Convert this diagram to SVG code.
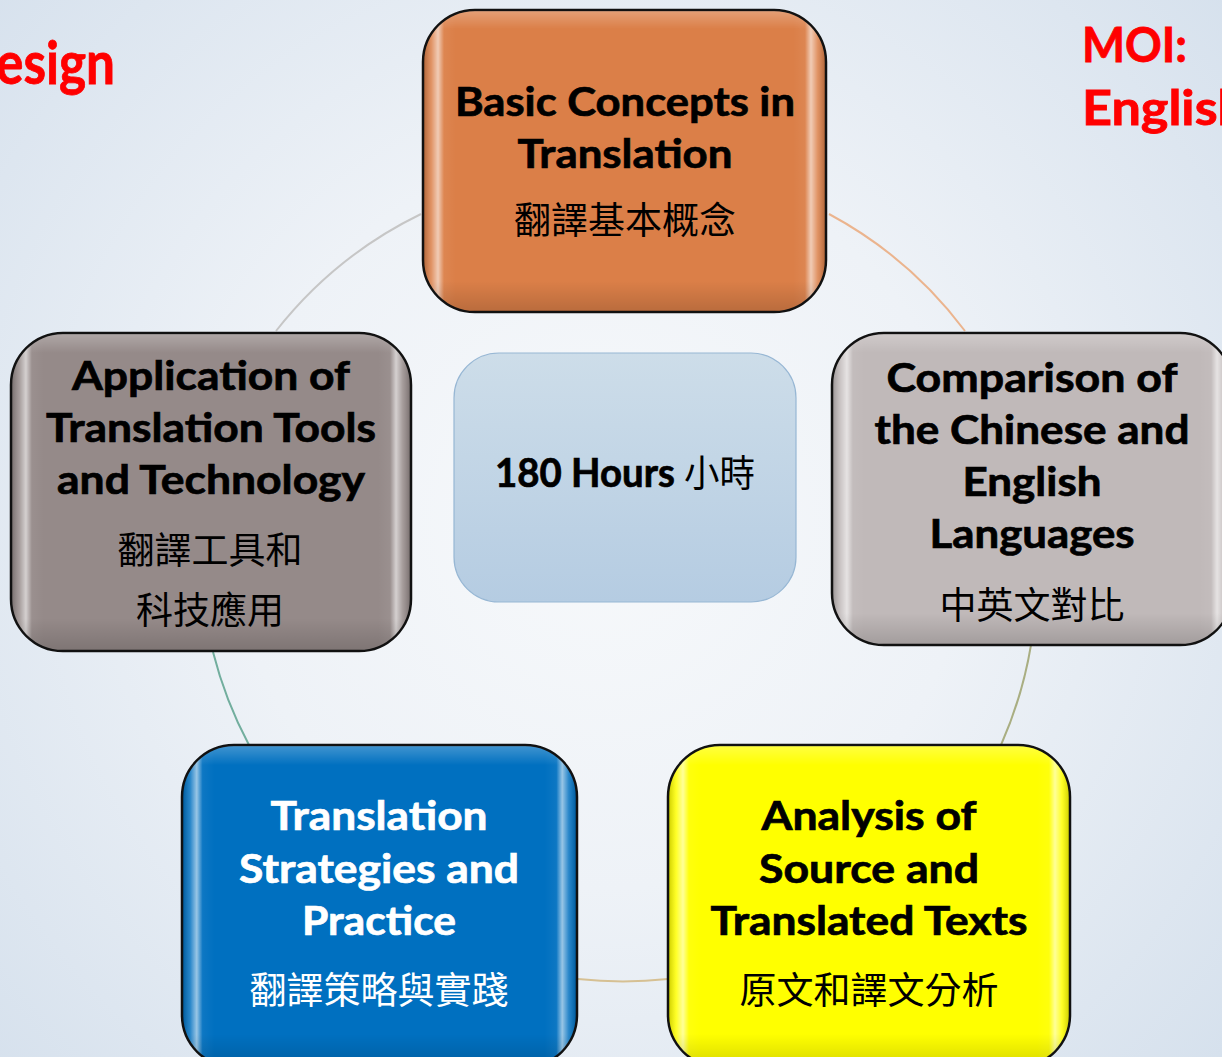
<svg xmlns="http://www.w3.org/2000/svg" width="1222" height="1057" viewBox="0 0 1222 1057">
  <defs>
    <radialGradient id="bg" cx="600" cy="520" r="820" gradientUnits="userSpaceOnUse">
      <stop offset="0" stop-color="#f7f9fb"/>
      <stop offset="0.45" stop-color="#eef2f7"/>
      <stop offset="1" stop-color="#d6e1ed"/>
    </radialGradient>
    <linearGradient id="bevelH" x1="0" y1="0" x2="1" y2="0">
      <stop offset="0" stop-color="#000" stop-opacity="0.18"/>
      <stop offset="0.018" stop-color="#fff" stop-opacity="0.15"/>
      <stop offset="0.035" stop-color="#fff" stop-opacity="0.6"/>
      <stop offset="0.05" stop-color="#fff" stop-opacity="0.05"/>
      <stop offset="0.08" stop-color="#fff" stop-opacity="0"/>
      <stop offset="0.92" stop-color="#fff" stop-opacity="0"/>
      <stop offset="0.95" stop-color="#fff" stop-opacity="0.05"/>
      <stop offset="0.965" stop-color="#fff" stop-opacity="0.6"/>
      <stop offset="0.982" stop-color="#fff" stop-opacity="0.15"/>
      <stop offset="1" stop-color="#000" stop-opacity="0.18"/>
    </linearGradient>
    <linearGradient id="bevelV" x1="0" y1="0" x2="0" y2="1">
      <stop offset="0" stop-color="#fff" stop-opacity="0.25"/>
      <stop offset="0.06" stop-color="#fff" stop-opacity="0"/>
      <stop offset="0.9" stop-color="#000" stop-opacity="0"/>
      <stop offset="1" stop-color="#000" stop-opacity="0.15"/>
    </linearGradient>
    <linearGradient id="centerFill" x1="0" y1="0" x2="0" y2="1">
      <stop offset="0" stop-color="#cddde9"/>
      <stop offset="1" stop-color="#b5cce2"/>
    </linearGradient>
    <style>
      .node { stroke: #111; stroke-width: 2.5; }
      .bev { fill: url(#bevelH); stroke: none; }
      .bevv { fill: url(#bevelV); stroke: none; }
      .dark { fill: #000; }
      .light { fill: #fff; }
      text.en { font-family: Lato, "Liberation Sans", sans-serif; font-weight: 700; font-size: 40px; text-anchor: middle; stroke-width: 0.7px; }
      text.en.dark { stroke: #000; }
      text.en.light { stroke: #fff; }
      .zh { font-family: "Noto Sans CJK TC", "Noto Sans CJK SC", sans-serif; font-weight: 400; font-size: 37px; text-anchor: middle; }
      text.zh, tspan.zh { stroke: none; }
      .red { font-family: Lato, "Liberation Sans", sans-serif; font-weight: 700; fill: #ff0000; stroke: #ff0000; stroke-width: 0.8px; }
      .conn { fill: none; stroke-width: 2; }
    </style>
  </defs>

  <rect x="0" y="0" width="1222" height="1057" fill="url(#bg)"/>

  <g id="titles">
    <text class="red" x="-4" y="84" font-size="60" textLength="119" lengthAdjust="spacingAndGlyphs">esign</text>
    <text class="red" x="1082" y="62" font-size="47" textLength="105" lengthAdjust="spacingAndGlyphs">MOI:</text>
    <text class="red" x="1082" y="125" font-size="47" textLength="165" lengthAdjust="spacingAndGlyphs">English</text>
  </g>

  <g id="connectors">
    <path class="conn" stroke="#ebb48e" d="M829,214 A415,415 0 0 1 965,331"/>
    <path class="conn" stroke="#a9ae82" d="M1031,645 A415,415 0 0 1 1001,745"/>
    <path class="conn" stroke="#d6c093" d="M668,979 A415,415 0 0 1 578,979"/>
    <path class="conn" stroke="#72ae9e" d="M249,745 A415,415 0 0 1 213,652"/>
    <path class="conn" stroke="#c6c6c6" d="M276,331 A415,415 0 0 1 421,214"/>
  </g>

  <g id="node-center">
    <rect x="454" y="353" width="342" height="249" rx="45" ry="45" fill="url(#centerFill)" stroke="#97b7d4" stroke-width="1.2"/>
    <text class="en dark" x="625" y="487" font-size="36" textLength="260" lengthAdjust="spacingAndGlyphs">180 Hours <tspan class="zh" font-size="36">小時</tspan></text>
  </g>

  <g id="node-top">
    <rect class="node" x="423" y="10" width="403" height="302" rx="52" ry="52" fill="#db7f48"/>
    <rect class="bev" x="424" y="11" width="401" height="300" rx="51" ry="51"/>
    <rect class="bevv" x="424" y="11" width="401" height="300" rx="51" ry="51"/>
    <text class="en dark" x="625" y="116" textLength="340" lengthAdjust="spacingAndGlyphs">Basic Concepts in</text>
    <text class="en dark" x="625" y="168" textLength="215" lengthAdjust="spacingAndGlyphs">Translation</text>
    <text class="zh dark" x="625" y="234">翻譯基本概念</text>
  </g>

  <g id="node-left">
    <rect class="node" x="11" y="333" width="400" height="318" rx="52" ry="52" fill="#958a89"/>
    <rect class="bev" x="12" y="334" width="398" height="316" rx="51" ry="51"/>
    <rect class="bevv" x="12" y="334" width="398" height="316" rx="51" ry="51"/>
    <text class="en dark" x="211" y="390" textLength="278" lengthAdjust="spacingAndGlyphs">Application of</text>
    <text class="en dark" x="211" y="442" textLength="330" lengthAdjust="spacingAndGlyphs">Translation Tools</text>
    <text class="en dark" x="211" y="494" textLength="308" lengthAdjust="spacingAndGlyphs">and Technology</text>
    <text class="zh dark" x="210" y="564">翻譯工具和</text>
    <text class="zh dark" x="210" y="624">科技應用</text>
  </g>

  <g id="node-right">
    <rect class="node" x="832" y="333" width="400" height="312" rx="52" ry="52" fill="#c0b9b9"/>
    <rect class="bev" x="833" y="334" width="398" height="310" rx="51" ry="51"/>
    <rect class="bevv" x="833" y="334" width="398" height="310" rx="51" ry="51"/>
    <text class="en dark" x="1032" y="392" textLength="291" lengthAdjust="spacingAndGlyphs">Comparison of</text>
    <text class="en dark" x="1032" y="444" textLength="315" lengthAdjust="spacingAndGlyphs">the Chinese and</text>
    <text class="en dark" x="1032" y="496" textLength="139" lengthAdjust="spacingAndGlyphs">English</text>
    <text class="en dark" x="1032" y="548" textLength="205" lengthAdjust="spacingAndGlyphs">Languages</text>
    <text class="zh dark" x="1032" y="619">中英文對比</text>
  </g>

  <g id="node-bottom-left">
    <rect class="node" x="182" y="745" width="395" height="322" rx="52" ry="52" fill="#0070c0"/>
    <rect class="bev" x="183" y="746" width="393" height="320" rx="51" ry="51"/>
    <rect class="bevv" x="183" y="746" width="393" height="320" rx="51" ry="51"/>
    <text class="en light" x="379" y="830" textLength="217" lengthAdjust="spacingAndGlyphs">Translation</text>
    <text class="en light" x="379" y="883" textLength="280" lengthAdjust="spacingAndGlyphs">Strategies and</text>
    <text class="en light" x="379" y="935" textLength="154" lengthAdjust="spacingAndGlyphs">Practice</text>
    <text class="zh light" x="379" y="1004">翻譯策略與實踐</text>
  </g>

  <g id="node-bottom-right">
    <rect class="node" x="668" y="745" width="402" height="322" rx="52" ry="52" fill="#ffff00"/>
    <rect class="bev" x="669" y="746" width="400" height="320" rx="51" ry="51"/>
    <rect class="bevv" x="669" y="746" width="400" height="320" rx="51" ry="51"/>
    <text class="en dark" x="869" y="830" textLength="215" lengthAdjust="spacingAndGlyphs">Analysis of</text>
    <text class="en dark" x="869" y="883" textLength="220" lengthAdjust="spacingAndGlyphs">Source and</text>
    <text class="en dark" x="869" y="935" textLength="317" lengthAdjust="spacingAndGlyphs">Translated Texts</text>
    <text class="zh dark" x="869" y="1004">原文和譯文分析</text>
  </g>
</svg>
